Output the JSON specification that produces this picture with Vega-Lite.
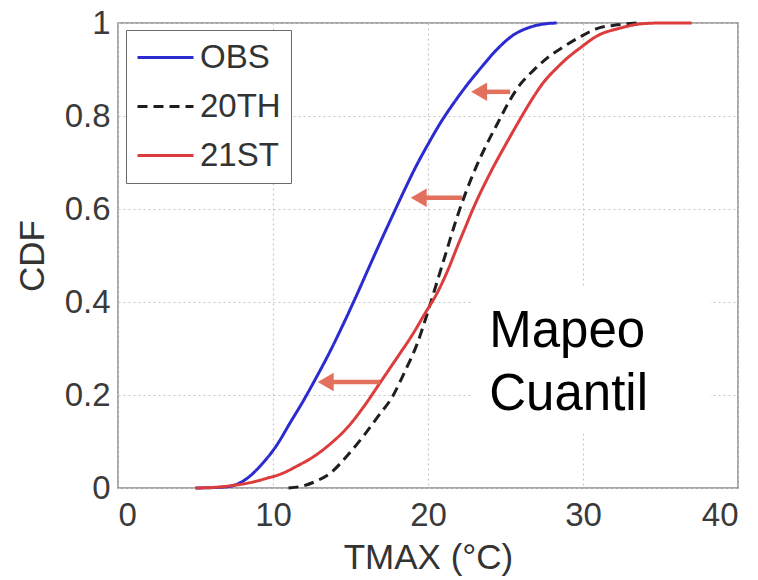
{
  "$schema": "https://vega.github.io/schema/vega-lite/v6.json",
  "width": 620,
  "height": 465,
  "autosize": {"type": "none"},
  "padding": {"left": 118, "top": 23, "right": 20, "bottom": 92},
  "background": "white",
  "config": {
    "font": "Liberation Sans",
    "view": {"stroke": "#8a8a8a", "strokeWidth": 1.5},
    "axis": {
      "domain": false,
      "ticks": false,
      "tickSize": 0,
      "grid": true,
      "gridColor": "#c8c8c8",
      "gridDash": [2, 3],
      "gridWidth": 1.2,
      "labelFont": "Liberation Sans",
      "labelFontSize": 33,
      "labelColor": "#3a3a3a",
      "titleFont": "Liberation Sans",
      "titleFontSize": 35,
      "titleFontWeight": "normal",
      "titleColor": "#333333"
    },
    "legend": {
      "orient": "none",
      "legendX": 8,
      "legendY": 7,
      "title": null,
      "labelFont": "Liberation Sans",
      "labelFontSize": 33,
      "labelColor": "#333333",
      "symbolType": "stroke",
      "symbolSize": 3136,
      "symbolStrokeWidth": 3,
      "labelOffset": 5,
      "padding": 10,
      "clipHeight": 35,
      "rowPadding": 14,
      "strokeColor": "#6a6a6a",
      "fillColor": "white"
    }
  },
  "datasets": {
    "curves": [
      {"series": "OBS", "x": 5.0, "y": 0},
      {"series": "OBS", "x": 6.8, "y": 0.002},
      {"series": "OBS", "x": 7.5, "y": 0.006},
      {"series": "OBS", "x": 8.3, "y": 0.02},
      {"series": "OBS", "x": 9.3, "y": 0.052},
      {"series": "OBS", "x": 10.2, "y": 0.09},
      {"series": "OBS", "x": 11.1, "y": 0.14},
      {"series": "OBS", "x": 12.0, "y": 0.19},
      {"series": "OBS", "x": 12.7, "y": 0.232},
      {"series": "OBS", "x": 13.7, "y": 0.295},
      {"series": "OBS", "x": 14.5, "y": 0.35},
      {"series": "OBS", "x": 15.4, "y": 0.415},
      {"series": "OBS", "x": 16.2, "y": 0.475},
      {"series": "OBS", "x": 16.9, "y": 0.527},
      {"series": "OBS", "x": 17.7, "y": 0.585},
      {"series": "OBS", "x": 18.4, "y": 0.635},
      {"series": "OBS", "x": 19.2, "y": 0.69},
      {"series": "OBS", "x": 20.1, "y": 0.745},
      {"series": "OBS", "x": 20.8, "y": 0.785},
      {"series": "OBS", "x": 21.6, "y": 0.825},
      {"series": "OBS", "x": 22.5, "y": 0.866},
      {"series": "OBS", "x": 23.4, "y": 0.903},
      {"series": "OBS", "x": 24.5, "y": 0.945},
      {"series": "OBS", "x": 25.5, "y": 0.974},
      {"series": "OBS", "x": 26.5, "y": 0.99},
      {"series": "OBS", "x": 27.5, "y": 0.998},
      {"series": "OBS", "x": 28.3, "y": 1.0},
      {"series": "20TH", "x": 11.0, "y": 0},
      {"series": "20TH", "x": 12.0, "y": 0.005},
      {"series": "20TH", "x": 12.8, "y": 0.015},
      {"series": "20TH", "x": 13.7, "y": 0.032},
      {"series": "20TH", "x": 14.8, "y": 0.07},
      {"series": "20TH", "x": 15.8, "y": 0.11},
      {"series": "20TH", "x": 16.8, "y": 0.155},
      {"series": "20TH", "x": 17.7, "y": 0.196},
      {"series": "20TH", "x": 18.5, "y": 0.25},
      {"series": "20TH", "x": 19.3, "y": 0.31},
      {"series": "20TH", "x": 20.0, "y": 0.38},
      {"series": "20TH", "x": 20.6, "y": 0.445},
      {"series": "20TH", "x": 21.2, "y": 0.51},
      {"series": "20TH", "x": 21.8, "y": 0.575},
      {"series": "20TH", "x": 22.4, "y": 0.632},
      {"series": "20TH", "x": 23.1, "y": 0.69},
      {"series": "20TH", "x": 23.8, "y": 0.74},
      {"series": "20TH", "x": 24.5, "y": 0.785},
      {"series": "20TH", "x": 25.3, "y": 0.835},
      {"series": "20TH", "x": 26.0, "y": 0.87},
      {"series": "20TH", "x": 26.8, "y": 0.898},
      {"series": "20TH", "x": 27.7, "y": 0.925},
      {"series": "20TH", "x": 28.7, "y": 0.948},
      {"series": "20TH", "x": 29.8, "y": 0.97},
      {"series": "20TH", "x": 30.9, "y": 0.988},
      {"series": "20TH", "x": 32.2, "y": 0.996},
      {"series": "20TH", "x": 33.5, "y": 1.0},
      {"series": "21ST", "x": 5.0, "y": 0},
      {"series": "21ST", "x": 6.5, "y": 0.002},
      {"series": "21ST", "x": 7.5, "y": 0.006},
      {"series": "21ST", "x": 8.3, "y": 0.01},
      {"series": "21ST", "x": 9.5, "y": 0.02},
      {"series": "21ST", "x": 10.5, "y": 0.03},
      {"series": "21ST", "x": 11.6, "y": 0.048},
      {"series": "21ST", "x": 12.6, "y": 0.067},
      {"series": "21ST", "x": 13.7, "y": 0.095},
      {"series": "21ST", "x": 14.8, "y": 0.13},
      {"series": "21ST", "x": 15.9, "y": 0.177},
      {"series": "21ST", "x": 16.9, "y": 0.226},
      {"series": "21ST", "x": 18.0, "y": 0.28},
      {"series": "21ST", "x": 19.0, "y": 0.33},
      {"series": "21ST", "x": 19.8, "y": 0.375},
      {"series": "21ST", "x": 20.6, "y": 0.42},
      {"series": "21ST", "x": 21.3, "y": 0.47},
      {"series": "21ST", "x": 21.9, "y": 0.52},
      {"series": "21ST", "x": 22.4, "y": 0.56},
      {"series": "21ST", "x": 22.9, "y": 0.6},
      {"series": "21ST", "x": 23.9, "y": 0.67},
      {"series": "21ST", "x": 25.1, "y": 0.744},
      {"series": "21ST", "x": 25.8, "y": 0.785},
      {"series": "21ST", "x": 26.6, "y": 0.83},
      {"series": "21ST", "x": 27.4, "y": 0.87},
      {"series": "21ST", "x": 28.3, "y": 0.903},
      {"series": "21ST", "x": 29.0, "y": 0.925},
      {"series": "21ST", "x": 29.8, "y": 0.946},
      {"series": "21ST", "x": 30.9, "y": 0.972},
      {"series": "21ST", "x": 32.4, "y": 0.989},
      {"series": "21ST", "x": 33.7, "y": 0.998},
      {"series": "21ST", "x": 35.0, "y": 1.0},
      {"series": "21ST", "x": 37.0, "y": 1.0}
    ],
    "arrows": [
      {"xs": 25.3, "xe": 23.3, "y": 0.852},
      {"xs": 22.2, "xe": 19.4, "y": 0.624},
      {"xs": 16.9, "xe": 13.4, "y": 0.228}
    ],
    "box": [
      {"x": 22.8, "x2": 38.2, "y": 0.118, "y2": 0.432}
    ],
    "labels": [
      {"label": "Mapeo", "x": 23.95, "y": 0.303},
      {"label": "Cuantil", "x": 23.95, "y": 0.168}
    ]
  },
  "layer": [
    {
      "data": {"name": "curves"},
      "mark": {"type": "line", "strokeWidth": 3, "interpolate": "monotone"},
      "encoding": {
        "x": {
          "field": "x", "type": "quantitative",
          "scale": {"domain": [0, 40], "nice": false},
          "axis": {"values": [0, 10, 20, 30, 40], "title": "TMAX (°C)", "labelPadding": 11, "titlePadding": 8}
        },
        "y": {
          "field": "y", "type": "quantitative",
          "scale": {"domain": [0, 1], "nice": false},
          "axis": {"values": [0, 0.2, 0.4, 0.6, 0.8, 1], "format": "~g", "title": "CDF", "labelPadding": 8, "titlePadding": 14}
        },
        "color": {
          "field": "series", "type": "nominal",
          "scale": {"domain": ["OBS", "20TH", "21ST"], "range": ["#2b2bd0", "#1e1e1e", "#dc3c3c"]},
          "legend": {}
        },
        "strokeDash": {
          "field": "series", "type": "nominal",
          "scale": {"domain": ["OBS", "20TH", "21ST"], "range": [[1, 0], [10, 6], [1, 0]]},
          "legend": {}
        },
        "order": {"field": "x", "type": "quantitative"}
      }
    },
    {
      "data": {"name": "box"},
      "mark": {"type": "rect", "fill": "white", "stroke": null},
      "encoding": {
        "x": {"field": "x", "type": "quantitative"},
        "x2": {"field": "x2"},
        "y": {"field": "y", "type": "quantitative"},
        "y2": {"field": "y2"}
      }
    },
    {
      "data": {"name": "labels"},
      "mark": {"type": "text", "font": "Liberation Sans", "fontSize": 51, "align": "left", "baseline": "alphabetic", "color": "black"},
      "encoding": {
        "x": {"field": "x", "type": "quantitative"},
        "y": {"field": "y", "type": "quantitative"},
        "text": {"field": "label"}
      }
    },
    {
      "data": {"name": "arrows"},
      "mark": {"type": "rule", "color": "#e3705d", "strokeWidth": 4.5},
      "encoding": {
        "x": {"field": "xs", "type": "quantitative"},
        "x2": {"field": "xe"},
        "y": {"field": "y", "type": "quantitative"}
      }
    },
    {
      "data": {"name": "arrows"},
      "mark": {"type": "point", "shape": "triangle-left", "filled": true, "color": "#e3705d", "size": 340, "opacity": 1},
      "encoding": {
        "x": {"field": "xe", "type": "quantitative"},
        "y": {"field": "y", "type": "quantitative"}
      }
    }
  ]
}
